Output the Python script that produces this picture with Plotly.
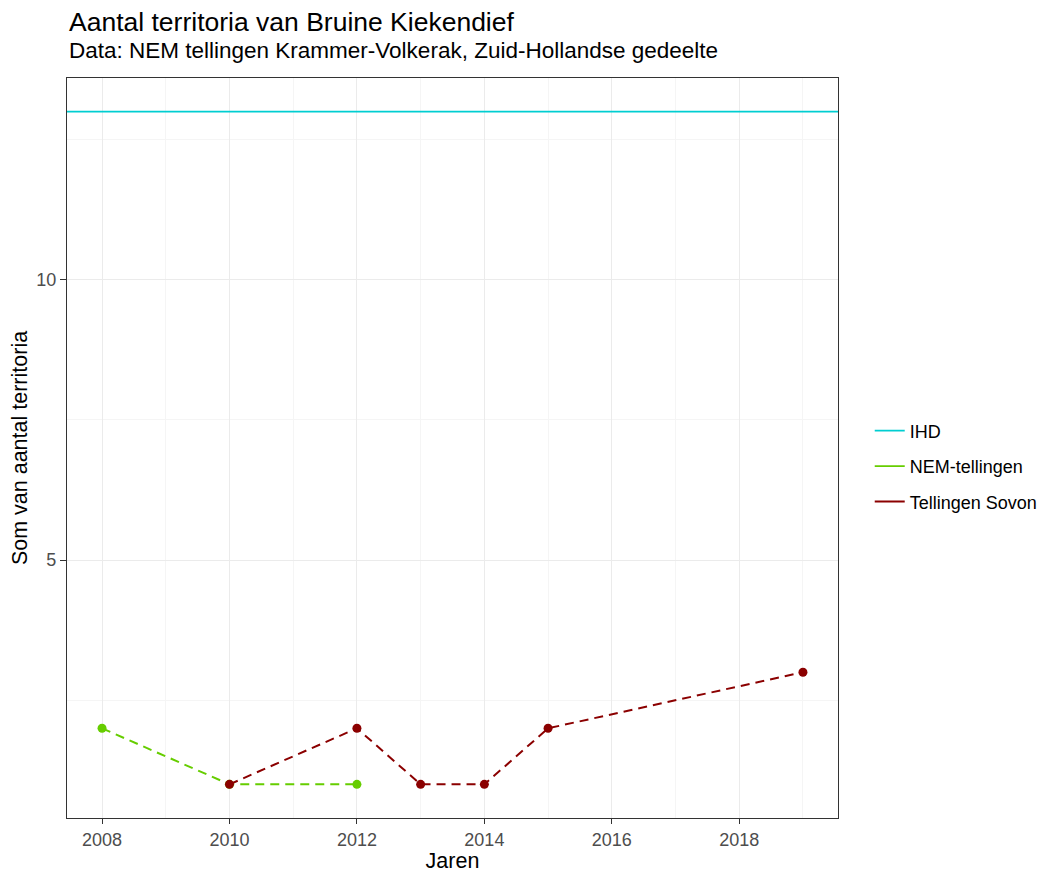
import plotly.graph_objects as go

# data
ihd_years = [2007.45, 2019.55]
ihd_value = [13, 13]

nem_years = [2008, 2010, 2012]
nem_values = [2, 1, 1]

sovon_years = [2010, 2012, 2013, 2014, 2015, 2019]
sovon_values = [1, 2, 1, 1, 2, 3]

series_names = ['IHD', 'NEM-tellingen', 'Tellingen Sovon']
series_colors = ['#00CED1', '#66CD00', '#8B0000']

fig = go.Figure()

# IHD reference line
fig.add_trace(go.Scatter(
    x=ihd_years, y=ihd_value, mode='lines',
    line=dict(color=series_colors[0], width=1.8),
    showlegend=False, name=series_names[0]
))

fig.add_trace(go.Scatter(
    x=nem_years, y=nem_values, mode='lines+markers',
    line=dict(color=series_colors[1], width=2, dash='9px,6px'),
    marker=dict(color=series_colors[1], size=9),
    showlegend=False, name=series_names[1]
))

fig.add_trace(go.Scatter(
    x=sovon_years, y=sovon_values, mode='lines+markers',
    line=dict(color=series_colors[2], width=2, dash='9px,6px'),
    marker=dict(color=series_colors[2], size=9),
    showlegend=False, name=series_names[2]
))

# legend entries with solid keys, like the ggplot legend
for name, color in zip(series_names, series_colors):
    fig.add_trace(go.Scatter(
        x=[None], y=[None], mode='lines', name=name, legendgroup=name,
        line=dict(color=color, width=1.8)
    ))

font_family = 'Liberation Sans, Arial, sans-serif'

# the page has an 8px body margin, so the figure is 8px smaller than the window
fig.update_layout(
    width=1042, height=865,
    paper_bgcolor='white', plot_bgcolor='white',
    margin=dict(l=59, r=212, t=70, b=55),
    font=dict(family=font_family, color='#000000'),
    legend=dict(
        xref='container', x=0.827, xanchor='left',
        y=0.475, yanchor='middle',
        font=dict(size=18, color='#000000'),
        tracegroupgap=9, itemwidth=30
    ),
    annotations=[
        dict(text='Aantal territoria van Bruine Kiekendief', xref='paper', yref='paper',
             x=0, y=1.076, xanchor='left', yanchor='middle', showarrow=False,
             font=dict(size=26.5, color='#000000')),
        dict(text='Data: NEM tellingen Krammer-Volkerak, Zuid-Hollandse gedeelte',
             xref='paper', yref='paper', x=0, y=1.037, xanchor='left', yanchor='middle',
             showarrow=False, font=dict(size=22.5, color='#000000')),
    ]
)

fig.update_xaxes(
    range=[2007.45, 2019.55], tickmode='linear', tick0=2008, dtick=2,
    showgrid=True, gridcolor='#EBEBEB', gridwidth=1.2,
    minor=dict(tick0=2007, dtick=1, showgrid=True, gridcolor='#F5F5F5', gridwidth=1),
    zeroline=False, showline=True, linecolor='#333333', linewidth=1.4, mirror=True,
    ticks='outside', ticklen=5, tickcolor='#333333', tickwidth=1.2,
    tickfont=dict(size=18, color='#4D4D4D'), automargin=False,
    title=dict(text='Jaren', font=dict(size=21.5, color='#000000'), standoff=3)
)

fig.update_yaxes(
    range=[0.4, 13.6], tickmode='linear', tick0=0, dtick=5,
    showgrid=True, gridcolor='#EBEBEB', gridwidth=1.2,
    minor=dict(tick0=0, dtick=2.5, showgrid=True, gridcolor='#F5F5F5', gridwidth=1),
    zeroline=False, showline=True, linecolor='#333333', linewidth=1.4, mirror=True,
    ticks='outside', ticklen=6, tickcolor='#333333', tickwidth=1.2,
    tickfont=dict(size=18, color='#4D4D4D'), automargin=False,
    title=dict(text='Som van aantal territoria', font=dict(size=21.5, color='#000000'), standoff=2)
)

fig.write_html("out.html")
